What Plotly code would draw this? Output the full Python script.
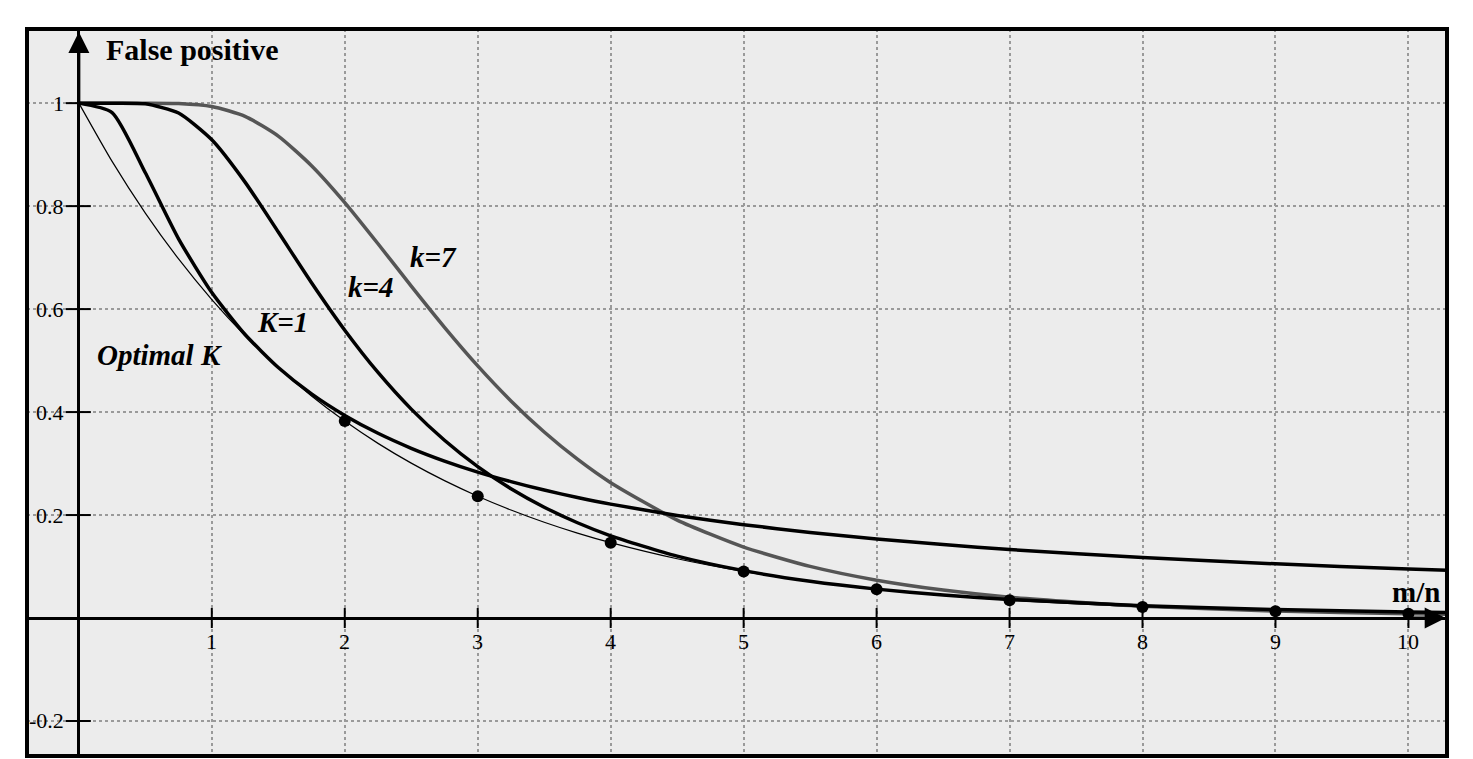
import plotly.graph_objects as go

# ---- data ----
x_curve = [0, 0.25, 0.5, 0.75, 1, 1.25, 1.5, 1.75, 2, 2.25, 2.5, 2.75, 3, 3.25, 3.5,
           3.75, 4, 4.5, 5, 5.5, 6, 6.5, 7, 8, 9, 10, 10.3]
fp_k1 = [1, 0.9817, 0.8647, 0.7364, 0.6321, 0.5507, 0.4866, 0.4353, 0.3935, 0.3588,
         0.3297, 0.3049, 0.2835, 0.2649, 0.2485, 0.2341, 0.2212, 0.1993, 0.1813, 0.1662,
         0.1535, 0.1426, 0.1331, 0.1175, 0.1052, 0.0952, 0.0925]
fp_k4 = [1, 1.0, 0.9987, 0.9808, 0.9288, 0.8466, 0.7497, 0.6512, 0.5590, 0.4769,
         0.4057, 0.3452, 0.2940, 0.2511, 0.2152, 0.1850, 0.1597, 0.1203, 0.0920, 0.0713,
         0.0561, 0.0446, 0.0359, 0.0240, 0.0166, 0.0118, 0.0107]
fp_k7 = [1, 1.0, 1.0, 0.9994, 0.9936, 0.9744, 0.9360, 0.8786, 0.8069, 0.7269,
         0.6446, 0.5646, 0.4897, 0.4217, 0.3613, 0.3085, 0.2629, 0.1902, 0.1378, 0.1002,
         0.0734, 0.0542, 0.0403, 0.0229, 0.0135, 0.0082, 0.0071]
fp_opt = [1, 0.8868, 0.7865, 0.6974, 0.6185, 0.5485, 0.4864, 0.4313, 0.3825, 0.3392,
          0.3008, 0.2668, 0.2366, 0.2098, 0.1861, 0.1650, 0.1464, 0.1151, 0.0905, 0.0712,
          0.0560, 0.0440, 0.0346, 0.0214, 0.0132, 0.0082, 0.0071]
x_dots = [2, 3, 4, 5, 6, 7, 8, 9, 10]
fp_dots = [0.3825, 0.2366, 0.1464, 0.0905, 0.0560, 0.0346, 0.0214, 0.0132, 0.0082]

x_ticks = [1, 2, 3, 4, 5, 6, 7, 8, 9, 10]
x_tick_labels = ["1", "2", "3", "4", "5", "6", "7", "8", "9", "10"]
y_ticks = [-0.2, 0.2, 0.4, 0.6, 0.8, 1]
y_tick_labels = ["-0.2", "0.2", "0.4", "0.6", "0.8", "1"]

curve_labels = ["<b><i>k=7</i></b>", "<b><i>k=4</i></b>", "<b><i>K=1</i></b>", "<b><i>Optimal K</i></b>"]
curve_label_x = [2.67, 2.20, 1.53, 0.61]
curve_label_y = [0.701, 0.643, 0.575, 0.510]

SERIF = "Liberation Serif, Times New Roman, serif"

fig = go.Figure()
fig.add_trace(go.Scatter(x=x_curve, y=fp_opt, mode="lines",
                         line=dict(color="black", width=1.2, shape="spline", smoothing=0.6),
                         showlegend=False, hoverinfo="skip"))
fig.add_trace(go.Scatter(x=x_curve, y=fp_k7, mode="lines",
                         line=dict(color="#555555", width=3.5, shape="spline", smoothing=0.6),
                         showlegend=False, hoverinfo="skip"))
fig.add_trace(go.Scatter(x=x_curve, y=fp_k4, mode="lines",
                         line=dict(color="black", width=3.5, shape="spline", smoothing=0.6),
                         showlegend=False, hoverinfo="skip"))
fig.add_trace(go.Scatter(x=x_curve, y=fp_k1, mode="lines",
                         line=dict(color="black", width=3.5, shape="spline", smoothing=0.6),
                         showlegend=False, hoverinfo="skip"))
fig.add_trace(go.Scatter(x=x_dots, y=fp_dots, mode="markers",
                         marker=dict(color="black", size=12),
                         showlegend=False, hoverinfo="skip"))

shapes = []
# tick marks
for v in y_ticks:
    shapes.append(dict(type="line", xref="x", yref="y", xsizemode="pixel", xanchor=0,
                       x0=-13, x1=12, y0=v, y1=v, line=dict(color="black", width=2)))
for v in x_ticks:
    shapes.append(dict(type="line", xref="x", yref="y", ysizemode="pixel", yanchor=0,
                       y0=-10, y1=10, x0=v, x1=v, line=dict(color="black", width=2)))
# frame
shapes.append(dict(type="rect", xref="paper", yref="paper", x0=0, x1=1, y0=0, y1=1,
                   line=dict(color="black", width=4), layer="above"))

annotations = []
for v, t in zip(y_ticks, y_tick_labels):
    annotations.append(dict(x=0, y=v, xref="x", yref="y", text=t, showarrow=False,
                            xanchor="right", yanchor="middle", xshift=-13,
                            font=dict(family=SERIF, size=22, color="black")))
for v, t in zip(x_ticks, x_tick_labels):
    annotations.append(dict(x=v, y=0, xref="x", yref="y", text=t, showarrow=False,
                            xanchor="center", yanchor="middle", yshift=-23,
                            font=dict(family=SERIF, size=22, color="black")))
for t, lx, ly in zip(curve_labels, curve_label_x, curve_label_y):
    annotations.append(dict(x=lx, y=ly, xref="x", yref="y", text=t, showarrow=False,
                            xanchor="center", yanchor="middle",
                            font=dict(family=SERIF, size=29, color="black")))
annotations.append(dict(x=0.857, y=1.105, xref="x", yref="y", text="<b>False positive</b>",
                        showarrow=False, xanchor="center", yanchor="middle",
                        font=dict(family=SERIF, size=30, color="black")))
annotations.append(dict(x=10.056, y=0.05, xref="x", yref="y", text="<b>m/n</b>",
                        showarrow=False, xanchor="center", yanchor="middle",
                        font=dict(family=SERIF, size=29, color="black")))
# axis arrows
annotations.append(dict(x=10.28, y=0, ax=10.0, ay=0, xref="x", yref="y", axref="x", ayref="y",
                        text="", showarrow=True, arrowhead=2, arrowsize=1.4, arrowwidth=3,
                        arrowcolor="black"))
annotations.append(dict(x=0, y=1.138, ax=0, ay=1.0, xref="x", yref="y", axref="x", ayref="y",
                        text="", showarrow=True, arrowhead=2, arrowsize=1.4, arrowwidth=3,
                        arrowcolor="black"))

fig.update_layout(
    width=1473, height=759,
    margin=dict(l=27, r=26, t=29, b=3, pad=0),
    paper_bgcolor="white", plot_bgcolor="#ececec",
    showlegend=False,
    shapes=shapes, annotations=annotations,
    xaxis=dict(range=[-0.39, 10.29], tickvals=x_ticks, showticklabels=False, ticks="",
               showgrid=True, gridcolor="#9a9a9a", griddash="dot", gridwidth=1.5,
               zeroline=True, zerolinecolor="black", zerolinewidth=3, showline=False,
               fixedrange=True),
    yaxis=dict(range=[-0.268, 1.144], tickvals=y_ticks, showticklabels=False, ticks="",
               showgrid=True, gridcolor="#9a9a9a", griddash="dot", gridwidth=1.5,
               zeroline=True, zerolinecolor="black", zerolinewidth=3, showline=False,
               fixedrange=True),
)

fig.write_html("out.html")
